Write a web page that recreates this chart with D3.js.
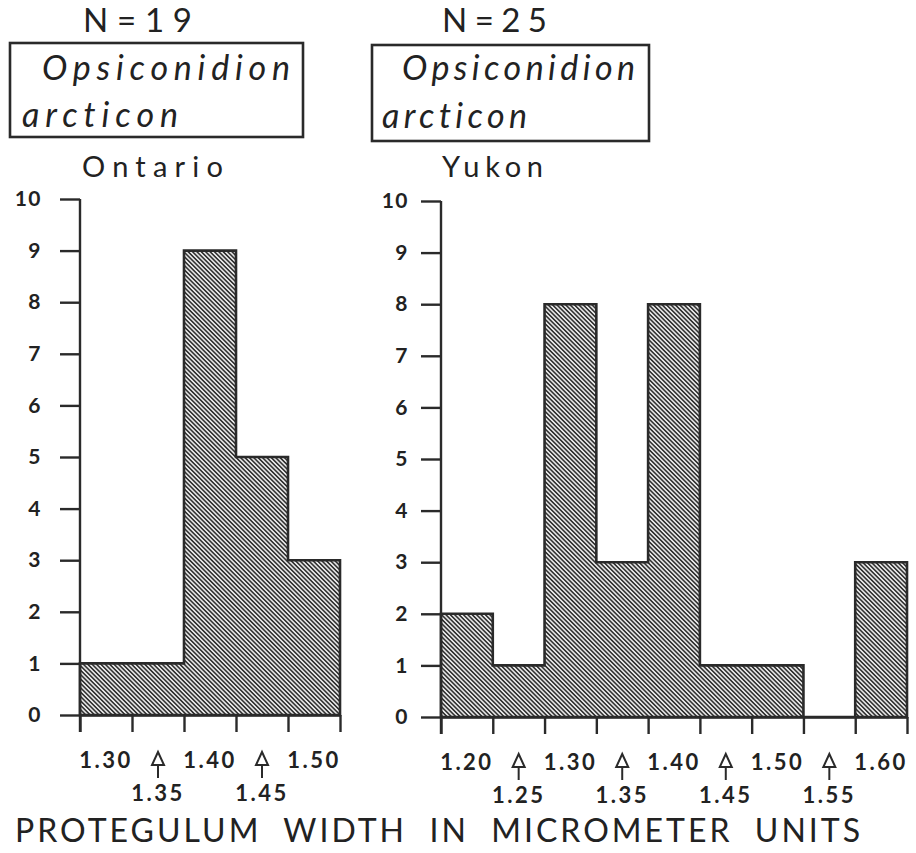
<!DOCTYPE html>
<html><head><meta charset="utf-8">
<script src="https://cdn.jsdelivr.net/npm/d3@7"></script>
<style>
html,body{margin:0;padding:0;background:#fff;}
text{font-family:Lato,"Open Sans",sans-serif;fill:#222;font-variant-ligatures:none;}
</style></head>
<body><svg id="c" width="916" height="853"></svg>
<script>
// ---- data ----
const ontarioBins = [1.30, 1.35, 1.40, 1.45, 1.50];
const ontarioCounts = [1, 1, 9, 5, 3];
const yukonBins = [1.20, 1.25, 1.30, 1.35, 1.40, 1.45, 1.50, 1.55, 1.60];
const yukonCounts = [2, 1, 8, 3, 8, 1, 1, 0, 3];
const yTicks = [0,1,2,3,4,5,6,7,8,9,10];
const ontarioTopLabels = ["1.30","1.40","1.50"];
const ontarioArrowLabels = ["1.35","1.45"];
const yukonTopLabels = ["1.20","1.30","1.40","1.50","1.60"];
const yukonArrowLabels = ["1.25","1.35","1.45","1.55"];
const binWidth = 0.05;

const svg = d3.select("#c");
const defs = svg.append("defs");
const P = 3.1;
const pat = defs.append("pattern").attr("id","hatch")
  .attr("patternUnits","userSpaceOnUse").attr("width",P).attr("height",P)
  .attr("patternTransform","rotate(45)");
pat.append("rect").attr("width",P).attr("height",P).attr("fill","#fff");
pat.append("line").attr("x1",0).attr("y1",P/2).attr("x2",P).attr("y2",P/2)
  .attr("stroke","#333").attr("stroke-width",1.75);

const ink = "#2a2a2a";

function panel(o){
  const g = svg.append("g");
  const x = d3.scaleLinear()
    .domain([o.bins[0]-binWidth/2, o.bins[o.bins.length-1]+binWidth/2])
    .range([o.x0, o.x1]);
  const y = d3.scaleLinear().domain([0,10]).range([o.y0, o.y1]);

  const pts = [[x.domain()[0], 0]];
  o.bins.forEach((b,i)=>{
    pts.push([b-binWidth/2, o.counts[i]]);
    pts.push([b+binWidth/2, o.counts[i]]);
  });
  pts.push([x.domain()[1], 0]);
  const line = d3.line().x(d=>x(d[0])).y(d=>y(d[1]));
  g.append("path").attr("d", line(pts)+"Z")
    .attr("fill","url(#hatch)").attr("stroke",ink).attr("stroke-width",2.6)
    .attr("stroke-linejoin","miter");

  const ya = g.append("g").attr("transform",`translate(${o.x0},0)`)
    .call(d3.axisLeft(y).tickValues(yTicks).tickSize(20).tickSizeOuter(0).tickPadding(o.yPad).tickFormat(d3.format("d")));
  ya.selectAll("path,line").attr("stroke",ink).attr("stroke-width",2.4);
  ya.select(".domain").attr("d",`M0,${o.y0+17}V${o.y1}`);
  ya.selectAll("text").attr("font-size",21).attr("font-family","Lato,sans-serif")
    .attr("fill","#222").attr("letter-spacing",1.5).attr("font-weight",700);

  const edges = o.bins.map(b=>b-binWidth/2).concat([o.bins[o.bins.length-1]+binWidth/2]);
  const xa = g.append("g").attr("transform",`translate(0,${o.y0})`)
    .call(d3.axisBottom(x).tickValues(edges).tickSize(17).tickSizeOuter(0).tickFormat(""));
  xa.selectAll("path,line").attr("stroke",ink).attr("stroke-width",2.4);

  g.selectAll(".tl").data(o.top).enter().append("text")
    .attr("x", d=>x(+d)).attr("y", o.labY).attr("text-anchor","middle")
    .attr("font-size",22).attr("font-weight",700).attr("letter-spacing",2.5).text(d=>d);
  const ar = g.selectAll(".ar").data(o.arrows).enter().append("g")
    .attr("transform", d=>`translate(${x(+d)},0)`);
  ar.append("path").attr("d",`M0,${o.labY-16}L-6,${o.labY-3}L6,${o.labY-3}Z`)
    .attr("fill","none").attr("stroke",ink).attr("stroke-width",2);
  ar.append("line").attr("x1",0).attr("x2",0).attr("y1",o.labY-3).attr("y2",o.labY+10)
    .attr("stroke",ink).attr("stroke-width",2);
  ar.append("text").attr("x",0).attr("y",o.labY+33).attr("text-anchor","middle")
    .attr("font-size",22).attr("font-weight",700).attr("letter-spacing",2.5).text(d=>d);

  svg.append("text").attr("x",o.nX).attr("y",32).attr("font-size",33)
    .attr("textLength",o.nW).attr("lengthAdjust","spacing").text(o.n);
  svg.append("rect").attr("x",o.box[0]).attr("y",o.box[1]).attr("width",o.box[2]).attr("height",o.box[3])
    .attr("fill","none").attr("stroke",ink).attr("stroke-width",2.6);
  svg.append("text").attr("x",o.sp1[0]).attr("y",o.sp1[1]).attr("font-size",34).attr("font-style","italic")
    .attr("textLength",o.sp1[2]).attr("lengthAdjust","spacing").text("Opsiconidion");
  svg.append("text").attr("x",o.sp2[0]).attr("y",o.sp2[1]).attr("font-size",34).attr("font-style","italic")
    .attr("textLength",o.sp2[2]).attr("lengthAdjust","spacing").text("arcticon");
  svg.append("text").attr("x",o.loc[0]).attr("y",177).attr("font-size",29)
    .attr("textLength",o.loc[1]).attr("lengthAdjust","spacing").text(o.locName);
}

panel({bins:ontarioBins, counts:ontarioCounts, x0:80, x1:340, y0:715, y1:199, yPad:18,
  top:ontarioTopLabels, arrows:ontarioArrowLabels, labY:768,
  n:"N=19", nX:83, nW:109, box:[10,43,293,94], sp1:[42,80,248], sp2:[22,127,156],
  loc:[82,141], locName:"Ontario"});
panel({bins:yukonBins, counts:yukonCounts, x0:441, x1:907, y0:717, y1:201, yPad:12,
  top:yukonTopLabels, arrows:yukonArrowLabels, labY:770,
  n:"N=25", nX:442, nW:105, box:[372,45,277,96], sp1:[402,80,233], sp2:[382,128,145],
  loc:[442,101], locName:"Yukon"});

svg.append("text").attr("x",15).attr("y",842).attr("font-size",32)
  .attr("textLength",845).attr("lengthAdjust","spacing").attr("xml:space","preserve")
  .text("PROTEGULUM  WIDTH  IN  MICROMETER  UNITS");
</script></body></html>
